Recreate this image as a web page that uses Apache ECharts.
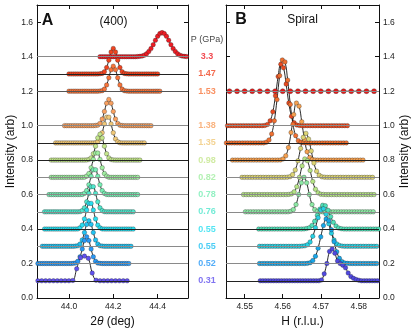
<!DOCTYPE html>
<html>
<head>
<meta charset="utf-8">
<script src="https://cdn.jsdelivr.net/npm/echarts@6/dist/echarts.min.js"></script>
<style>
  html, body { margin: 0; padding: 0; background: #fff; }
  #chart { width: 415px; height: 334px; }
</style>
</head>
<body>
<div id="chart"></div>
<script>
// tick labels
const yTicks = [0, 0.2, 0.4, 0.6, 0.8, 1.0, 1.2, 1.4, 1.6];
const aXTicks = [44.0, 44.2, 44.4];
const bXTicks = [4.55, 4.56, 4.57, 4.58];

// pressure labels (middle column), one per row of panel A
const pLabels = ["3.3", "1.47", "1.53", "1.38", "1.35", "0.98", "0.82", "0.78", "0.76", "0.55", "0.55", "0.52", "0.31"];
const pColors = ["#ee1c24", "#f04420", "#f7743a", "#f8a060", "#f0c878", "#c4e68c", "#a0eea0", "#78eeb4", "#50e6cc", "#28def0", "#20c2f2", "#2898f6", "#6050ee"];

// panel A (400): baseline offset, first 2theta, step, heights above baseline
const aOffsets = [1.4, 1.3, 1.2, 1.0, 0.9, 0.8, 0.7, 0.6, 0.5, 0.4, 0.3, 0.2, 0.1];
const aStarts = [44.14, 44.00, 44.00, 43.98, 43.94, 43.92, 43.92, 43.91, 43.89, 43.89, 43.88, 43.86, 43.86];
const aSteps = [0.01, 0.01, 0.01, 0.01, 0.01, 0.01, 0.01, 0.01, 0.01, 0.01, 0.01, 0.01, 0.0175];
const aBase = ["#8a8a8a", "#222", "#555", "#8a8a8a", "#222", "#222", "#8a8a8a", "#8a8a8a", "#8a8a8a", "#222", "#8a8a8a", "#8a8a8a", "#222"];

const a33 = [0,0,0,0,0,0,0,0,0,0, 0,0,0,0,0,0,0, .001,.002,.004,.009,.017,.030,.047,.070,.095,.118,.134,.140,.134,.118,.095,.070,.047,.030,.017,.009,.004,.002,.001, 0];
const a147 = [0,0,0,0,0,0,0,0,0,0, 0,0,0,0, .001,.003,.013,.037,.080,.127,.148,.127,.080,.037,.013,.003,.001, 0,0,0,0,0,0,0,0,0,0, 0,0,0,0];
const a153 = [0,0,0,0,0,0,0,0,0,0, 0,0,0,0, .001,.003,.012,.036,.078,.124,.145,.124,.078,.036,.012,.003,.001, 0,0,0,0,0,0,0,0,0,0, 0,0,0,0,0];
const a138 = [0,0,0,0,0,0,0,0,0,0, 0,0,0,0, .001,.003,.013,.038,.082,.130,.152,.130,.082,.038,.013,.003,.001, 0,0,0,0,0,0,0,0,0,0, 0,0,0];
const a135 = [0,0,0,0,0,0,0,0,0,0, 0,0,0,0,0,0,0,0, .001,.007,.023,.059,.110,.149,.149,.110,.059,.023,.007,.001, 0,0,0,0,0,0,0,0,0,0, 0];
const a098 = [0,0,0,0,0,0,0,0,0,0, 0,0,0,0,0,0, .001,.003,.013,.037,.081,.129,.150,.129,.081,.037,.013,.003,.001, 0,0,0,0,0,0,0,0,0,0, 0,0];
const a082 = [0,0,0,0,0,0,0,0,0,0, 0,0,0,0,0, .001,.007,.022,.056,.104,.141,.141,.104,.056,.022,.007,.001, 0,0,0,0,0,0,0,0,0,0, 0,0,0];
const a078 = [0,0,0,0,0,0,0,0,0,0, 0,0,0,0,0, .001,.007,.023,.057,.106,.144,.144,.106,.057,.023,.007,.001, 0,0,0,0,0,0,0,0,0,0, 0,0,0,0];
const a076 = [0,0,0,0,0,0,0,0,0,0, 0,0,0,0,0,0, .001,.007,.023,.058,.107,.146,.146,.107,.058,.023,.007,.001, 0,0,0,0,0,0,0,0,0,0, 0,0,0];
const a055a = [0,0,0,0,0,0,0,0,0,0, 0,0,0,0,0, .001,.007,.023,.059,.110,.149,.149,.110,.059,.023,.007,.001, 0,0,0,0,0,0,0,0,0,0, 0,0,0,0];
const a055b = [0,0,0,0,0,0,0,0,0,0, 0,0,0,0,0, .001,.003,.013,.037,.080,.127,.148,.127,.080,.037,.013,.003,.001, 0,0,0,0,0,0,0,0,0,0, 0,0,0];
const a052 = [0,0,0,0,0,0,0,0,0,0, 0,0,0,0,0,0, .001,.003,.013,.039,.084,.133,.155,.133,.084,.039,.013,.003,.001, 0,0,0,0,0,0,0,0,0,0, 0,0,0];
const a031 = [0,0,0,0,0,0,0,0,0, .002,.070,.134,.143,.130,.045,.003, 0,0,0,0,0,0,0,0];
const aHeights = [a33, a147, a153, a138, a135, a098, a082, a078, a076, a055a, a055b, a052, a031];

// panel B (spiral): baseline offset, first H, step, heights above baseline
const bOffsets = [1.2, 1.0, 0.9, 0.8, 0.7, 0.6, 0.5, 0.4, 0.3, 0.2, 0.1];
const bStarts = [4.546, 4.5455, 4.5452, 4.5468, 4.5493, 4.5497, 4.5502, 4.5537, 4.5539, 4.5539, 4.5541];
const bSteps = [0.002, 0.0007, 0.0007, 0.0007, 0.0007, 0.0007, 0.0007, 0.0007, 0.0007, 0.0007, 0.0007];
const bColors = ["#e81818", "#ea4a20", "#f07030", "#f5a050", "#dcd474", "#b4e284", "#8ce8a4", "#50e0b8", "#28d0e2", "#18a6e8", "#5048e0"];
const bBase = ["#8a8a8a", "#8a8a8a", "#222", "#222", "#8a8a8a", "#8a8a8a", "#8a8a8a", "#222", "#8a8a8a", "#8a8a8a", "#222"];

const b12 = [0,0,0,0,0,0,0,0,0,0, 0,0,0,0,0,0,0,0,0,0];
const b10 = [0,0,0,0,0,0,0,0,0,0, 0,0,0,0, .001,.007,.028,.080,.173,.285,.356,.336,.241,.131,.054,.017,.004,.001, 0,0,0,0,0,0,0,0,0,0, 0,0,0,0,0,0,0,0];
const b09 = [0,0,0,0,0,0,0,0,0,0, 0,0,0,0,0, .004,.017,.052,.128,.251,.390,.481,.470,.364,.223,.108,.042,.013,.003,.001, 0,0,0,0,0,0,0,0,0,0, 0,0,0,0,0,0];
const b08 = [0,0,0,0,0,0,0,0,0,0, 0,0,0,0,0,0,0,0, .001,.007,.025,.073,.160,.264,.331,.313,.223,.121,.049,.015,.004,.001, 0,0,0,0,0,0,0,0,0,0, 0,0,0,0,0,0,0,0];
const b07 = [0,0,0,0,0,0,0,0,0,0, 0,0,0,0,0,0,0, .001,.004,.016,.043,.096,.168,.232,.255,.222,.153,.083,.036,.012,.003,.001, 0,0,0,0,0,0,0,0,0,0, 0,0,0,0,0,0,0,0];
const b06 = [0,0,0,0,0,0,0,0,0,0, 0,0,0,0,0,0,0, .001,.004,.016,.046,.100,.166,.207,.196,.140,.076,.031,.010,.002,.001, 0,0,0,0,0,0,0,0,0,0, 0,0,0,0,0,0,0,0,0];
const b05 = [0,0,0,0,0,0,0,0,0,0, 0,0,0,0,0,0,0, .003,.013,.042,.100,.168,.200,.168,.100,.042,.013,.003, 0,0,0,0,0,0,0,0,0,0, 0,0,0,0,0,0,0,0,0,0, 0];
const b04 = [0,0,0,0,0,0,0,0,0,0, 0,0,0,0,0,0,0, .001,.003,.008,.021,.045,.080,.116,.138,.135,.109,.072,.039,.018,.006,.002, 0,0,0,0,0,0,0,0,0,0, 0,0,0,0];
const b03 = [0,0,0,0,0,0,0,0,0,0, 0,0,0,0,0,0, .001,.003,.009,.025,.058,.108,.166,.210,.218,.186,.131,.076,.036,.014,.005,.001, 0,0,0,0,0,0,0,0,0,0, 0,0,0,0];
const b02 = [0,0,0,0,0,0,0,0,0,0, 0,0,0,0,0,0,0,0, .001,.005,.017,.042,.089,.155,.220,.258,.248,.196,.127,.068,.030,.011,.003,.001, 0,0,0,0,0,0,0,0,0,0, 0,0];
const b01 = [0,0,0,0,0,0,0,0,0,0, 0,0,0,0,0,0,0,0,0,0, 0,0,0, .005,.040,.100,.170,.185,.160,.115,.100,.090,.075,.045,.025,.014,.007,.003, 0,0,0,0,0,0,0,0];
const bHeights = [b12, b10, b09, b08, b07, b06, b05, b04, b03, b02, b01];

const FONT = "'Liberation Sans', Arial, sans-serif";
const INK = "#111";

function traceSeries(heights, start, step, offset, color, xi, yi, size) {
  return {
    type: "line",
    xAxisIndex: xi,
    yAxisIndex: yi,
    data: heights.map((h, i) => [start + i * step, offset + h]),
    smooth: 0.4,
    symbol: "circle",
    symbolSize: size,
    showAllSymbol: true,
    z: 3,
    lineStyle: { color: INK, width: 0.9 },
    itemStyle: { color: color, borderColor: "rgba(30,30,30,0.6)", borderWidth: 0.5 },
    animation: false,
  };
}

function baselineSeries(offsets, colors, xi, yi) {
  return {
    type: "line",
    xAxisIndex: xi,
    yAxisIndex: yi,
    data: [],
    z: 1,
    markLine: {
      silent: true,
      symbol: "none",
      animation: false,
      label: { show: false },
      lineStyle: { type: "solid", width: 1.2 },
      data: offsets.map((o, i) => ({ yAxis: o, lineStyle: { color: colors[i] } })),
    },
  };
}

function xAxisOf(grid, min, max, ticks, pos, digits, name) {
  return {
    type: "value",
    gridIndex: grid,
    position: pos,
    min: min,
    max: max,
    splitLine: { show: false },
    axisLine: { onZero: false, lineStyle: { color: INK, width: 1 } },
    axisTick: { inside: true, length: 4, customValues: ticks, lineStyle: { color: INK } },
    axisLabel: {
      show: pos === "bottom",
      customValues: ticks,
      margin: 4,
      fontFamily: FONT,
      fontSize: 8.5,
      color: "#222",
      formatter: v => v.toFixed(digits),
    },
    name: name,
    nameLocation: "middle",
    nameGap: 16,
    nameTextStyle: {
      fontFamily: FONT,
      fontSize: 12,
      color: INK,
      rich: { i: { fontStyle: "italic", fontFamily: FONT, fontSize: 12, color: INK } },
    },
  };
}

function yAxisOf(grid, pos, labels, name) {
  return {
    type: "value",
    gridIndex: grid,
    position: pos,
    min: 0,
    max: 1.7,
    splitLine: { show: false },
    axisLine: { lineStyle: { color: INK, width: 1 } },
    axisTick: { inside: true, length: 4, customValues: yTicks, lineStyle: { color: INK } },
    axisLabel: {
      show: labels,
      customValues: yTicks,
      margin: 4,
      fontFamily: FONT,
      fontSize: 8.5,
      color: "#222",
      formatter: v => v.toFixed(1),
    },
    name: name,
    nameLocation: "middle",
    nameRotate: 90,
    nameGap: 20,
    nameTextStyle: { fontFamily: FONT, fontSize: 12, color: INK },
  };
}

const series = [baselineSeries(aOffsets, aBase, 0, 0), baselineSeries(bOffsets, bBase, 2, 2)];
aHeights.forEach((h, i) => {
  series.push(traceSeries(h, aStarts[i], aSteps[i], aOffsets[i], pColors[i], 0, 0, 4.5));
});
bHeights.forEach((h, i) => {
  series.push(traceSeries(h, bStarts[i], bSteps[i], bOffsets[i], bColors[i], 2, 2, i === 0 ? 5 : 4.5));
});

// pressure column between the panels
series.push({
  type: "scatter",
  xAxisIndex: 4,
  yAxisIndex: 4,
  symbolSize: 0,
  z: 5,
  animation: false,
  label: { show: true, position: "inside", fontFamily: FONT, fontSize: 9, fontWeight: "bold", formatter: p => p.name },
  data: [{ name: "P (GPa)", value: [0.5, 1.5], label: { color: INK, fontWeight: "normal" } }].concat(
    pLabels.map((t, i) => ({ name: t, value: [0.5, aOffsets[i]], label: { color: pColors[i] } }))
  ),
});

const chart = echarts.init(document.getElementById("chart"), null, { renderer: "canvas" });
chart.setOption({
  backgroundColor: "#fff",
  animation: false,
  grid: [
    { left: 37, top: 5, width: 151, height: 293 },
    { left: 226, top: 5, width: 153, height: 293 },
    { left: 188, top: 5, width: 38, height: 293 },
  ],
  xAxis: [
    xAxisOf(0, 43.856, 44.537, aXTicks, "bottom", 1, "2{i|θ} (deg)"),
    xAxisOf(0, 43.856, 44.537, aXTicks, "top", 1, ""),
    xAxisOf(1, 4.5451, 4.5853, bXTicks, "bottom", 2, "H (r.l.u.)"),
    xAxisOf(1, 4.5451, 4.5853, bXTicks, "top", 2, ""),
    { type: "value", gridIndex: 2, min: 0, max: 1, show: false },
  ],
  yAxis: [
    yAxisOf(0, "left", true, "Intensity (arb)"),
    yAxisOf(0, "right", false, ""),
    yAxisOf(1, "right", true, "Intensity (arb)"),
    yAxisOf(1, "left", false, ""),
    { type: "value", gridIndex: 2, min: 0, max: 1.7, show: false },
  ],
  graphic: [
    { type: "text", x: 47.5, y: 20.5, style: { text: "A", font: "bold 16px " + FONT, fill: INK, align: "center", verticalAlign: "middle" } },
    { type: "text", x: 113.5, y: 21.5, style: { text: "(400)", font: "12px " + FONT, fill: INK, align: "center", verticalAlign: "middle" } },
    { type: "text", x: 241, y: 19.5, style: { text: "B", font: "bold 16px " + FONT, fill: INK, align: "center", verticalAlign: "middle" } },
    { type: "text", x: 302.5, y: 20, style: { text: "Spiral", font: "12px " + FONT, fill: INK, align: "center", verticalAlign: "middle" } },
  ],
  series: series,
});
</script>
</body>
</html>
